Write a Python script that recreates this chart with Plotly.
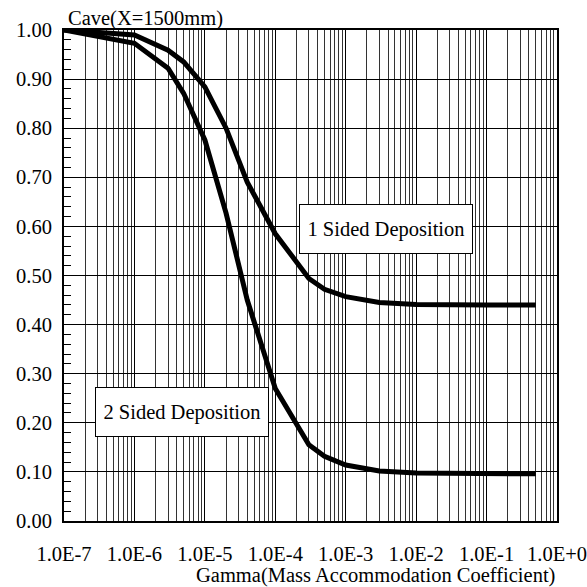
import plotly.graph_objects as go

gamma = [1e-7, 1e-6, 3e-6, 5e-6, 1e-5, 2e-5, 4e-5, 1e-4, 3e-4, 5e-4, 1e-3, 3e-3, 1e-2, 3e-2, 1e-1, 5e-1]
one_sided = [1.0, 0.99, 0.959, 0.935, 0.884, 0.80, 0.69, 0.585, 0.494, 0.472, 0.457, 0.445, 0.441, 0.440, 0.440, 0.440]
two_sided = [1.0, 0.973, 0.922, 0.871, 0.776, 0.627, 0.45, 0.27, 0.155, 0.132, 0.114, 0.102, 0.098, 0.097, 0.096, 0.096]

x_tickvals = [1e-7, 1e-6, 1e-5, 1e-4, 1e-3, 1e-2, 1e-1, 1e0]
x_ticktext = ["1.0E-7", "1.0E-6", "1.0E-5", "1.0E-4", "1.0E-3", "1.0E-2", "1.0E-1", "1.0E+0"]

FONT = "Liberation Serif"
FS = 20.5
fig = go.Figure()
fig.add_trace(go.Scatter(x=gamma, y=one_sided, mode="lines", line=dict(color="black", width=5), showlegend=False))
fig.add_trace(go.Scatter(x=gamma, y=two_sided, mode="lines", line=dict(color="black", width=5), showlegend=False))

fig.update_layout(
    width=587, height=587, autosize=False,
    margin=dict(l=64, r=30, t=30, b=66, pad=0, autoexpand=False),
    paper_bgcolor="white", plot_bgcolor="white",
    font=dict(family=FONT, size=FS, color="black"),
    xaxis=dict(type="log", range=[-7, 0], tickvals=x_tickvals, ticktext=x_ticktext,
               showgrid=True, gridcolor="black", gridwidth=1, automargin=False,
               minor=dict(dtick="D1", showgrid=True, gridcolor="#333", gridwidth=1, ticks=""),
               showline=True, linecolor="black", linewidth=2, mirror=True,
               ticks="", ticklabelstandoff=13, zeroline=False),
    yaxis=dict(range=[0, 1], dtick=0.1, tickformat=".2f", automargin=False,
               showgrid=True, gridcolor="black", gridwidth=1,
               showline=True, linecolor="black", linewidth=2, mirror=True,
               ticks="inside", ticklen=7, tickcolor="black",
               minor=dict(dtick=0.02, ticks="inside", ticklen=7, tickcolor="black", showgrid=False),
               ticklabelstandoff=6, zeroline=False),
)

fig.add_annotation(text="Cave(X=1500mm)", xref="paper", yref="paper", x=0.004, y=1.024,
                   xanchor="left", yanchor="middle", showarrow=False, font=dict(size=FS))
fig.add_annotation(text="Gamma(Mass Accommodation Coefficient)", xref="paper", yref="paper",
                   x=0.631, y=-0.11, xanchor="center", yanchor="middle", showarrow=False, font=dict(size=FS))
fig.add_annotation(text="1 Sided Deposition", xref="paper", yref="paper", x=0.653, y=0.595,
                   xanchor="center", yanchor="middle", showarrow=False, bgcolor="white",
                   bordercolor="black", borderwidth=1, width=170, height=46, borderpad=1)
fig.add_annotation(text="2 Sided Deposition", xref="paper", yref="paper", x=0.239, y=0.223,
                   xanchor="center", yanchor="middle", showarrow=False, bgcolor="white",
                   bordercolor="black", borderwidth=1, width=170, height=46, borderpad=1)

fig.write_html("out.html")
